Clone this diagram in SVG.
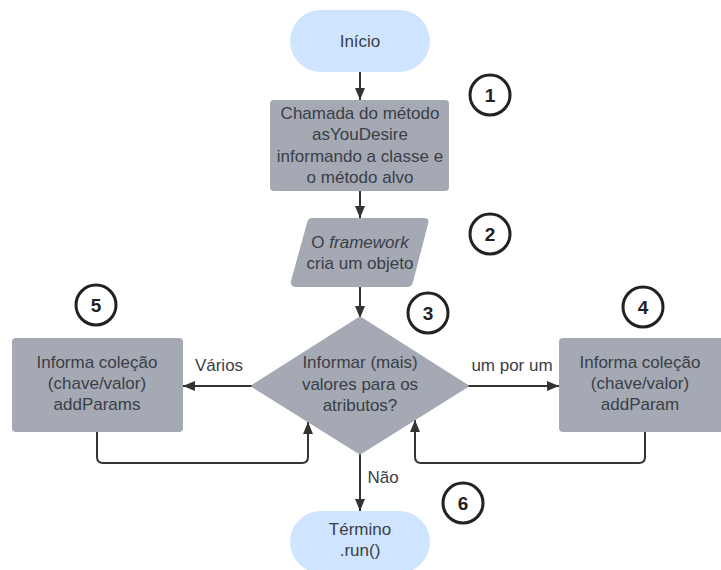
<svg xmlns="http://www.w3.org/2000/svg" width="721" height="570" viewBox="0 0 721 570">
<style>
text{font-family:"Liberation Sans",Arial,sans-serif;font-size:17px;fill:#3a3e46;text-anchor:middle}
.num{font-weight:bold;font-size:19px;fill:#222}
.proc{fill:#a4a9b4}
.term{fill:#cfe4ff}
.badge{fill:#fff;stroke:#222;stroke-width:3}
.ln{fill:none;stroke:#333;stroke-width:2}
</style>
<defs>
<marker id="ah" viewBox="0 0 12 10" refX="12" refY="5" markerWidth="12" markerHeight="10" markerUnits="userSpaceOnUse" orient="auto">
<path d="M0,0 L12,5 L0,10 z" fill="#333"/>
</marker>
</defs>
<g id="connectors">
<path class="ln" d="M360,72 V100" marker-end="url(#ah)"/>
<path class="ln" d="M360,191 V218" marker-end="url(#ah)"/>
<path class="ln" d="M360,287 V318" marker-end="url(#ah)"/>
<path class="ln" d="M253,386 H183" marker-end="url(#ah)"/>
<path class="ln" d="M467,386 H559" marker-end="url(#ah)"/>
<path class="ln" d="M360,453 V511" marker-end="url(#ah)"/>
<path class="ln" d="M97,432 V457 Q97,463 103,463 H302 Q308,463 308,457 V422" marker-end="url(#ah)"/>
<path class="ln" d="M645,432 V457 Q645,463 639,463 H421 Q415,463 415,457 V420" marker-end="url(#ah)"/>
<text x="219" y="371">Vários</text>
<text x="512" y="371">um por um</text>
<text x="383" y="483">Não</text>
</g>
<g id="inicio">
<rect class="term" x="290" y="10" width="140" height="62" rx="31"/>
<text x="360" y="47">Início</text>
</g>
<g id="chamada">
<rect class="proc" x="270" y="100" width="179" height="91" rx="4"/>
<text x="360" y="118.5">Chamada do método</text>
<text x="360" y="140">asYouDesire</text>
<text x="360" y="161.5">informando a classe e</text>
<text x="360" y="183">o método alvo</text>
</g>
<g id="framework">
<path class="proc" d="M312,218 H424 Q430,218 428,224 L413,282 Q412,287 407,287 H296 Q290,287 291,281 L307,223 Q308,218 312,218 z"/>
<text x="360" y="247.5">O <tspan font-style="italic">framework</tspan></text>
<text x="360" y="269">cria um objeto</text>
</g>
<g id="decisao">
<path class="proc" d="M360,318 L467,386 L360,453 L253,386 z" stroke="#a4a9b4" stroke-linejoin="round" stroke-width="3"/>
<text x="360" y="368">Informar (mais)</text>
<text x="360" y="389.5">valores para os</text>
<text x="360" y="411">atributos?</text>
</g>
<g id="addParams">
<rect class="proc" x="12" y="338" width="171" height="94" rx="4"/>
<text x="97" y="368">Informa coleção</text>
<text x="97" y="389">(chave/valor)</text>
<text x="97" y="410">addParams</text>
</g>
<g id="addParam">
<rect class="proc" x="559" y="338" width="171" height="94" rx="4"/>
<text x="640" y="368">Informa coleção</text>
<text x="640" y="389">(chave/valor)</text>
<text x="640" y="410">addParam</text>
</g>
<g id="termino">
<rect class="term" x="290" y="511" width="140" height="62" rx="31"/>
<text x="360" y="535">Término</text>
<text x="360" y="556">.run()</text>
</g>
<g id="badge1"><circle class="badge" cx="490" cy="95" r="20"/><text class="num" x="490" y="102">1</text></g>
<g id="badge2"><circle class="badge" cx="490" cy="234" r="20"/><text class="num" x="490" y="241">2</text></g>
<g id="badge3"><circle class="badge" cx="428" cy="313" r="20"/><text class="num" x="428" y="320">3</text></g>
<g id="badge4"><circle class="badge" cx="643" cy="307" r="20"/><text class="num" x="643" y="314">4</text></g>
<g id="badge5"><circle class="badge" cx="96" cy="305" r="20"/><text class="num" x="96" y="312">5</text></g>
<g id="badge6"><circle class="badge" cx="463" cy="503" r="20"/><text class="num" x="463" y="510">6</text></g>
</svg>
